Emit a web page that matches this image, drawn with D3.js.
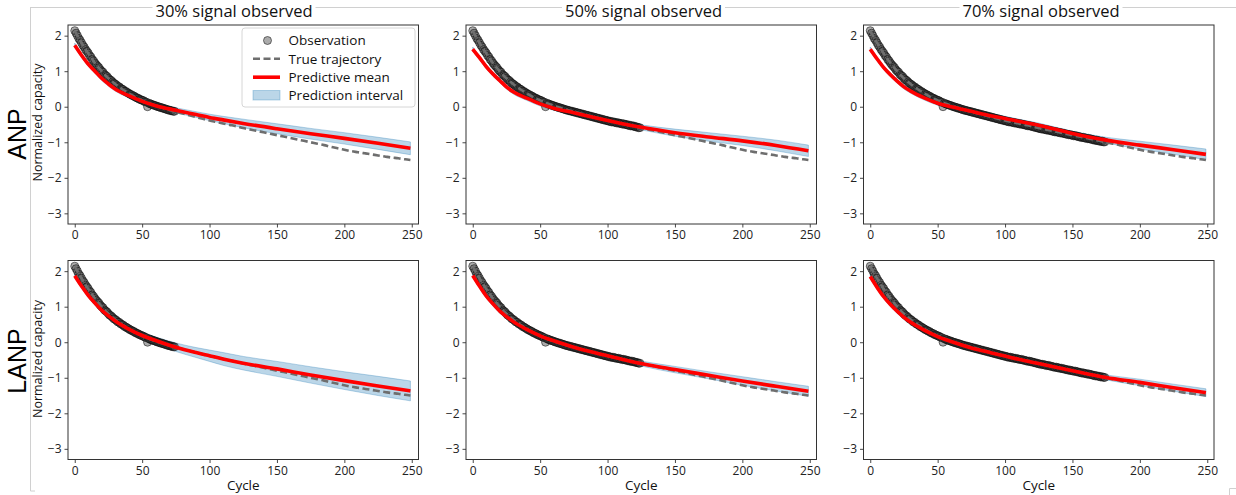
<!DOCTYPE html>
<html>
<head>
<meta charset="utf-8">
<script src="https://cdn.jsdelivr.net/npm/d3@7"></script>
<style>
html,body{margin:0;padding:0;background:#fff;}
svg{display:block;}
</style>
</head>
<body>
<svg id="chart" width="1236" height="495"></svg>
<script>
// ---------------- DATA ----------------
const columnTitles = ["30% signal observed", "50% signal observed", "70% signal observed"];
const rowLabels = ["ANP", "LANP"];
const observedCutoff = [75, 125, 175];
const xTicks = [0, 50, 100, 150, 200, 250];
const yTicks = [2, 1, 0, -1, -2, -3];
const legendLabels = ["Observation", "True trajectory", "Predictive mean", "Prediction interval"];

// true trajectory
const trueCycles = [0,5,10,15,20,25,30,35,40,45,50,55,60,65,70,75,80,85,90,95,100,105,110,115,120,125,130,135,140,145,150,155,160,165,170,175,180,185,190,195,200,205,210,215,220,225,230,235,240,245,249];
const trueValues = [2.13,1.80,1.50,1.23,1.00,0.80,0.64,0.50,0.38,0.27,0.18,0.10,0.03,-0.03,-0.09,-0.14,-0.19,-0.24,-0.29,-0.34,-0.39,-0.43,-0.47,-0.51,-0.55,-0.60,-0.64,-0.68,-0.72,-0.76,-0.80,-0.84,-0.88,-0.92,-0.96,-1.00,-1.04,-1.08,-1.13,-1.17,-1.21,-1.25,-1.28,-1.31,-1.34,-1.37,-1.40,-1.43,-1.45,-1.48,-1.50];

// observations, one per cycle starting at cycle 0
const obsValues = [
 2.14,2.07,2.00,1.92,1.87,1.80,1.73,1.68,1.61,1.56,
 1.51,1.44,1.40,1.33,1.29,1.23,1.18,1.14,1.10,1.04,
 1.00,0.97,0.91,0.88,0.85,0.80,0.76,0.74,0.70,0.66,
 0.64,0.61,0.57,0.56,0.52,0.50,0.48,0.44,0.43,0.40,
 0.38,0.35,0.34,0.31,0.30,0.27,0.25,0.24,0.21,0.20,
 0.18,0.17,0.14,0.13,0.00,0.10,0.08,0.07,0.05,0.04,
 0.03,0.01,0.00,-0.01,-0.03,-0.03,-0.05,-0.06,-0.07,-0.09,
 -0.09,-0.11,-0.11,-0.13,-0.13,-0.15,-0.15,-0.17,-0.17,-0.19,
 -0.19,-0.21,-0.21,-0.23,-0.23,-0.25,-0.25,-0.27,-0.27,-0.29,
 -0.29,-0.31,-0.31,-0.33,-0.33,-0.35,-0.35,-0.37,-0.37,-0.39,
 -0.39,-0.41,-0.41,-0.43,-0.42,-0.44,-0.44,-0.46,-0.45,-0.47,
 -0.47,-0.49,-0.48,-0.50,-0.50,-0.52,-0.52,-0.54,-0.53,-0.55,
 -0.55,-0.57,-0.57,-0.59,-0.59,-0.61,-0.61,-0.63,-0.62,-0.64,
 -0.64,-0.66,-0.65,-0.67,-0.67,-0.69,-0.69,-0.71,-0.70,-0.72,
 -0.72,-0.74,-0.73,-0.75,-0.75,-0.77,-0.77,-0.79,-0.78,-0.80,
 -0.80,-0.82,-0.81,-0.83,-0.83,-0.85,-0.85,-0.87,-0.86,-0.88,
 -0.88,-0.90,-0.89,-0.91,-0.91,-0.93,-0.93,-0.95,-0.94,-0.96,
 -0.96,-0.98,-0.97,-0.99,-0.99
];

// predictive mean and interval half-width
const predCycles = [0,5,10,15,20,25,30,40,50,60,75,90,100,110,125,150,175,200,225,249];
const meanANP30 = [1.73,1.45,1.20,1.00,0.80,0.64,0.50,0.31,0.15,0.03,-0.10,-0.22,-0.30,-0.37,-0.47,-0.62,-0.76,-0.89,-1.03,-1.17];
const meanANP50 = [1.62,1.38,1.13,0.92,0.74,0.56,0.42,0.24,0.08,-0.04,-0.17,-0.30,-0.39,-0.47,-0.58,-0.73,-0.85,-0.96,-1.09,-1.24];
const meanANP70 = [1.62,1.35,1.10,0.90,0.72,0.56,0.44,0.25,0.10,0.00,-0.13,-0.26,-0.33,-0.41,-0.52,-0.75,-0.94,-1.08,-1.21,-1.34];
const meanLANP30 = [1.87,1.58,1.32,1.10,0.90,0.74,0.60,0.37,0.19,0.05,-0.14,-0.29,-0.38,-0.47,-0.59,-0.75,-0.92,-1.08,-1.23,-1.37];
const meanLANP50 = [1.88,1.58,1.30,1.08,0.88,0.72,0.58,0.36,0.18,0.04,-0.14,-0.29,-0.38,-0.47,-0.60,-0.77,-0.93,-1.09,-1.24,-1.38];
const meanLANP70 = [1.85,1.55,1.28,1.06,0.87,0.70,0.56,0.34,0.16,0.02,-0.16,-0.30,-0.39,-0.48,-0.60,-0.80,-0.99,-1.13,-1.28,-1.42];
const widthANP30 = [0.06,0.06,0.06,0.06,0.06,0.06,0.06,0.06,0.06,0.06,0.07,0.08,0.09,0.10,0.12,0.14,0.15,0.16,0.17,0.18];
const widthANP50 = [0.06,0.06,0.06,0.06,0.06,0.06,0.06,0.06,0.06,0.06,0.06,0.06,0.06,0.06,0.07,0.10,0.12,0.13,0.15,0.16];
const widthANP70 = [0.06,0.06,0.06,0.06,0.06,0.06,0.06,0.06,0.06,0.06,0.06,0.06,0.06,0.06,0.06,0.06,0.08,0.11,0.13,0.15];
const widthLANP30 = [0.06,0.06,0.06,0.06,0.07,0.07,0.07,0.08,0.09,0.10,0.12,0.14,0.16,0.18,0.19,0.21,0.23,0.25,0.27,0.28];
const widthLANP50 = [0.06,0.06,0.06,0.06,0.06,0.06,0.06,0.06,0.06,0.06,0.06,0.06,0.06,0.06,0.07,0.09,0.10,0.12,0.13,0.14];
const widthLANP70 = [0.06,0.06,0.06,0.06,0.06,0.06,0.06,0.06,0.06,0.06,0.06,0.06,0.06,0.06,0.06,0.06,0.07,0.09,0.10,0.11];

const means = [[meanANP30, meanANP50, meanANP70],[meanLANP30, meanLANP50, meanLANP70]];
const widths = [[widthANP30, widthANP50, widthANP70],[widthLANP30, widthLANP50, widthLANP70]];

// ---------------- LAYOUT ----------------
const svg = d3.select("#chart");
const FONT = "'Open Sans', 'DejaVu Sans', sans-serif";
const colLeft = [68, 466, 863.5];
const panelW = 350.5;
const rowTop = [25, 260.5];
const panelH = 199;
const titleX = [234, 643.5, 1041];

// page frame artifacts (light grey)
svg.append("line").attr("x1",30).attr("x2",1236).attr("y1",7.5).attr("y2",7.5).attr("stroke","#d0d0d0").attr("stroke-width",1);
svg.append("line").attr("x1",30.5).attr("x2",30.5).attr("y1",7.5).attr("y2",491).attr("stroke","#d0d0d0").attr("stroke-width",1);
svg.append("line").attr("x1",30.5).attr("x2",35).attr("y1",491).attr("y2",491).attr("stroke","#d0d0d0").attr("stroke-width",1);
svg.append("line").attr("x1",1229.5).attr("x2",1236).attr("y1",488.5).attr("y2",488.5).attr("stroke","#d0d0d0").attr("stroke-width",1);
svg.append("line").attr("x1",1229.5).attr("x2",1229.5).attr("y1",488.5).attr("y2",495).attr("stroke","#d0d0d0").attr("stroke-width",1);

const trueData = trueCycles.map((c,i)=>({x:c,y:trueValues[i]}));
const obsData = obsValues.map((v,i)=>({x:i,y:v}));

for (let r=0; r<2; r++) {
  for (let c=0; c<3; c++) {
    const x = d3.scaleLinear().domain([-5, 255]).range([colLeft[c], colLeft[c]+panelW]);
    const y = d3.scaleLinear().domain([-3.3, 2.3]).range([rowTop[r]+panelH, rowTop[r]]);
    const g = svg.append("g");

    // prediction interval
    const band = predCycles.map((cy,i)=>({x:cy, lo:means[r][c][i]-widths[r][c][i], hi:means[r][c][i]+widths[r][c][i]}));
    g.append("path").datum(band)
      .attr("d", d3.area().x(d=>x(d.x)).y0(d=>y(d.lo)).y1(d=>y(d.hi)).curve(d3.curveMonotoneX))
      .attr("fill","#1f77b4").attr("fill-opacity",0.3)
      .attr("stroke","#1f77b4").attr("stroke-opacity",0.3).attr("stroke-width",1);

    // observations
    g.append("g").selectAll("circle")
      .data(obsData.filter(d=>d.x < observedCutoff[c]))
      .join("circle")
      .attr("cx", d=>x(d.x)).attr("cy", d=>y(d.y)).attr("r", 4)
      .attr("fill","#444").attr("fill-opacity",0.45)
      .attr("stroke","#000").attr("stroke-opacity",0.5).attr("stroke-width",1);

    // true trajectory
    g.append("path").datum(trueData)
      .attr("d", d3.line().x(d=>x(d.x)).y(d=>y(d.y)).curve(d3.curveMonotoneX))
      .attr("fill","none").attr("stroke","#6e6e6e").attr("stroke-width",2.6)
      .attr("stroke-dasharray","7,3.5");

    // predictive mean
    const meanData = predCycles.map((cy,i)=>({x:cy, y:means[r][c][i]}));
    g.append("path").datum(meanData)
      .attr("d", d3.line().x(d=>x(d.x)).y(d=>y(d.y)).curve(d3.curveMonotoneX))
      .attr("fill","none").attr("stroke","#ff0000").attr("stroke-width",3.6);

    // axes
    const xa = g.append("g").attr("transform",`translate(0,${rowTop[r]+panelH})`)
      .call(d3.axisBottom(x).tickValues(xTicks).tickSize(3.5).tickPadding(3));
    const ya = g.append("g").attr("transform",`translate(${colLeft[c]},0)`)
      .call(d3.axisLeft(y).tickValues(yTicks).tickSize(3.5).tickPadding(3)
        .tickFormat(d=> d<0 ? "\u2212"+Math.abs(d) : String(d)));
    [xa,ya].forEach(a=>{
      a.select(".domain").remove();
      a.selectAll("line").attr("stroke","#333").attr("stroke-width",0.9);
      a.selectAll("text").attr("font-family",FONT).attr("font-size",12).attr("fill","#222");
    });

    // frame
    g.append("rect").attr("x",colLeft[c]).attr("y",rowTop[r]).attr("width",panelW).attr("height",panelH)
      .attr("fill","none").attr("stroke","#333").attr("stroke-width",1);

    if (r===1) {
      svg.append("text").attr("x", colLeft[c]+panelW/2).attr("y", 490)
        .attr("text-anchor","middle").attr("font-family",FONT).attr("font-size",13.5).attr("fill","#111")
        .text("Cycle");
    }
    if (c===0) {
      const cy = rowTop[r] + panelH/2 - (r===0 ? 2 : 1);
      svg.append("text").attr("transform",`translate(42,${cy}) rotate(-90)`)
        .attr("text-anchor","middle").attr("font-family",FONT).attr("font-size",12.5).attr("fill","#111")
        .text("Normalized capacity");
    }
  }
}

// column titles (white backing interrupts the grey page line like the reference)
columnTitles.forEach((t,i)=>{
  const tg = svg.append("g");
  const tx = tg.append("text").attr("x", titleX[i]).attr("y", 16.5).attr("text-anchor","middle")
    .attr("font-family",FONT).attr("font-size",16.5).attr("fill","#111").text(t);
  const bb = tx.node().getBBox();
  tg.insert("rect", ":first-child").attr("x", bb.x-3).attr("y", 4).attr("width", bb.width+6).attr("height", 8).attr("fill","#fff");
});
// row labels
const rowCenters = [134, 361];
rowLabels.forEach((t,i)=>{
  svg.append("text").attr("transform",`translate(26,${rowCenters[i]}) rotate(-90)`)
    .attr("text-anchor","middle").attr("font-family","'Liberation Sans', Arial, sans-serif").attr("font-size",25).attr("fill","#000")
    .text(t);
});

// legend (first panel)
const lg = svg.append("g");
lg.append("rect").attr("x",242).attr("y",28).attr("width",173).attr("height",79).attr("rx",3)
  .attr("fill","#fff").attr("fill-opacity",0.85).attr("stroke","#d6d6d6").attr("stroke-width",1);
const rowY = [40.5, 58.8, 77.2, 95.5];
lg.append("circle").attr("cx",267.5).attr("cy",rowY[0]).attr("r",4)
  .attr("fill","#444").attr("fill-opacity",0.45).attr("stroke","#000").attr("stroke-opacity",0.5);
lg.append("line").attr("x1",253).attr("x2",280).attr("y1",rowY[1]).attr("y2",rowY[1])
  .attr("stroke","#6e6e6e").attr("stroke-width",2.6).attr("stroke-dasharray","7,3.5");
lg.append("line").attr("x1",253).attr("x2",280).attr("y1",rowY[2]).attr("y2",rowY[2])
  .attr("stroke","#ff0000").attr("stroke-width",3.6);
lg.append("rect").attr("x",253).attr("y",rowY[3]-5).attr("width",27).attr("height",9.5)
  .attr("fill","#1f77b4").attr("fill-opacity",0.3).attr("stroke","#1f77b4").attr("stroke-opacity",0.3);
legendLabels.forEach((t,i)=>{
  lg.append("text").attr("x",288.5).attr("y",rowY[i]+4.8).attr("font-family",FONT).attr("font-size",13.5)
    .attr("fill","#111").text(t);
});
</script>
</body>
</html>
